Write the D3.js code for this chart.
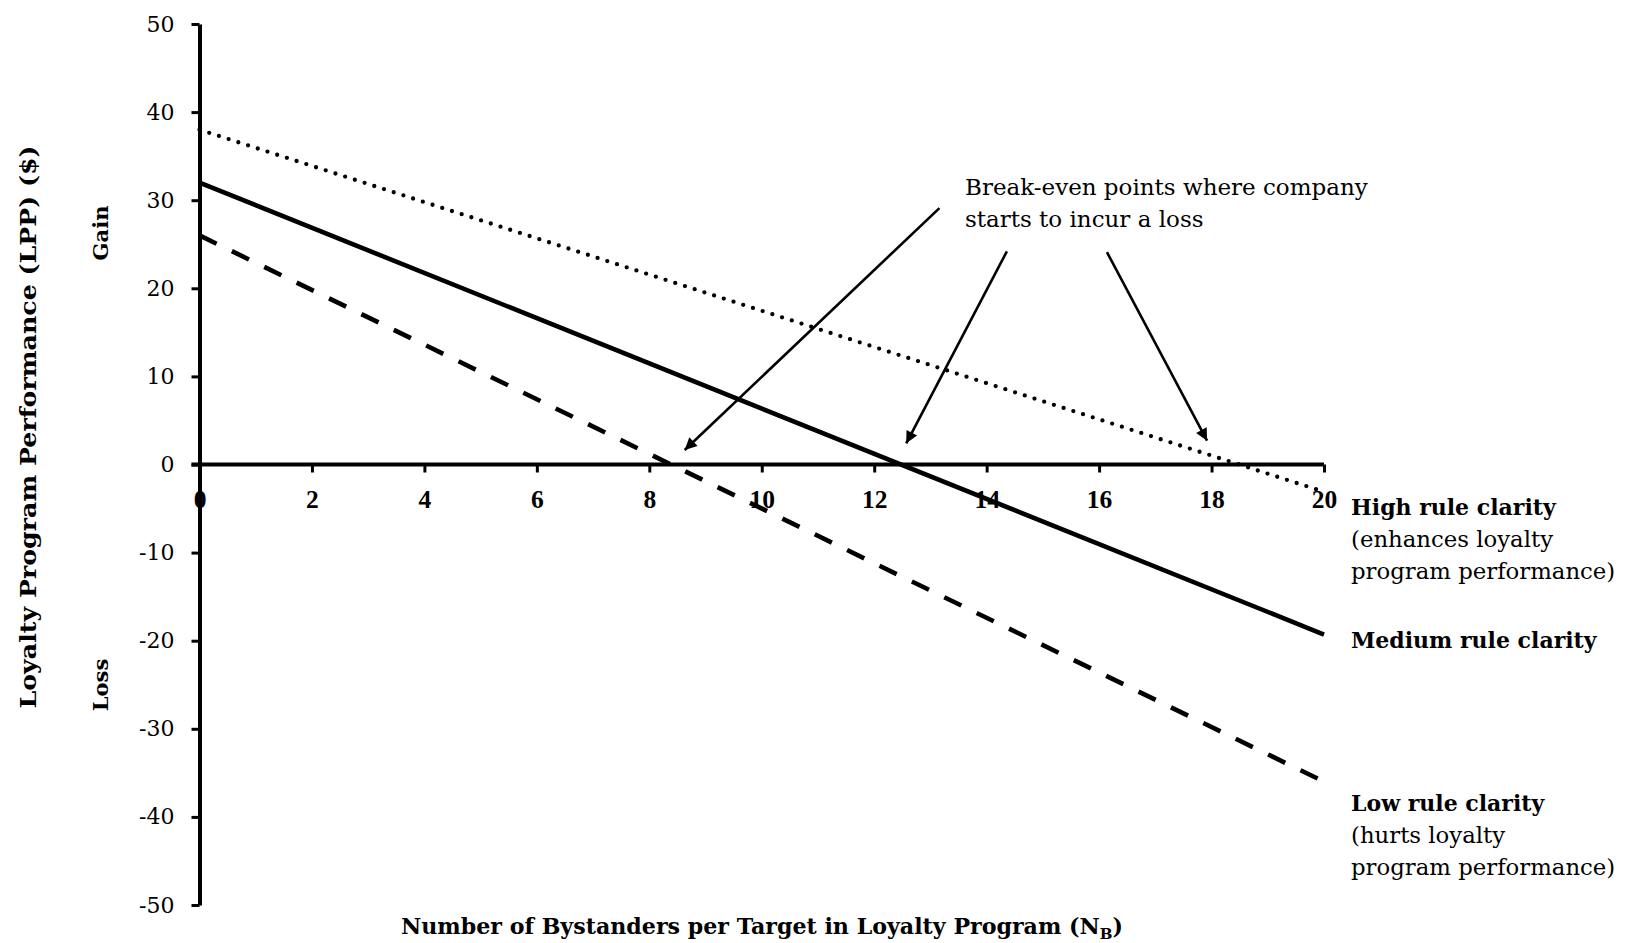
<!DOCTYPE html>
<html>
<head>
<meta charset="utf-8">
<script src="https://cdn.jsdelivr.net/npm/d3@7"></script>
<style>
  html, body { margin: 0; padding: 0; background: #fff; }
  svg { display: block; }
</style>
</head>
<body>
<svg id="chart" width="1628" height="943"></svg>
<script>
// ---- data ----
const xValues = [0, 20];
const highClarity = [38, -3.1];
const mediumClarity = [32, -19.3];
const lowClarity = [26, -36];
const xTicks = [0, 2, 4, 6, 8, 10, 12, 14, 16, 18, 20];
const yTicks = [-50, -40, -30, -20, -10, 0, 10, 20, 30, 40, 50];
// annotation arrows in data units: [fromX, fromY, toX, toY]
const arrows = [
  [13.16, 29.1, 8.63, 1.65],
  [14.36, 24.2, 12.57, 2.4],
  [16.14, 24.1, 17.92, 2.7]
];
const noteLines = ["Break-even points where company", "starts to incur a loss"];

const svg = d3.select("#chart");
const x = d3.scaleLinear().domain([0, 20]).range([199.5, 1324]);
const y = d3.scaleLinear().domain([-50, 50]).range([905, 24]);

const serif = "'DejaVu Serif', serif";

// ---- series ----
const line = d3.line().x(d => x(d[0])).y(d => y(d[1]));
const series = [
  {vals: highClarity, dash: "0 10.2", cap: "round", w: 4.3},
  {vals: mediumClarity, dash: null, cap: "butt", w: 4.6},
  {vals: lowClarity, dash: "19 17", cap: "butt", w: 4.6}
];
series.forEach(s => {
  svg.append("path")
    .datum(xValues.map((xv, i) => [xv, s.vals[i]]))
    .attr("d", line)
    .attr("fill", "none")
    .attr("stroke", "#000")
    .attr("stroke-width", s.w)
    .attr("stroke-linecap", s.cap)
    .attr("stroke-dasharray", s.dash);
});

// ---- x axis ----
const xAxis = svg.append("g")
  .attr("transform", `translate(0,${y(0)})`)
  .call(d3.axisBottom(x).tickValues(xTicks).tickFormat(d => String(d))
    .tickSize(8).tickSizeOuter(0).tickPadding(17));
xAxis.select(".domain").attr("stroke-width", 4).attr("d", `M${x(0) - 8},0H${x(20)}`);
xAxis.selectAll(".tick line").attr("stroke-width", 3);
xAxis.selectAll(".tick text")
  .attr("font-family", "'Liberation Serif', serif")
  .attr("font-weight", "bold")
  .attr("font-size", 25.5)
  .attr("fill", "#000");

// ---- y axis ----
const yAxis = svg.append("g")
  .attr("transform", `translate(${x(0)},0)`)
  .call(d3.axisLeft(y).tickValues(yTicks).tickFormat(d => String(d))
    .tickSize(8).tickSizeOuter(0).tickPadding(17));
yAxis.select(".domain").attr("stroke-width", 4);
yAxis.selectAll(".tick line").attr("stroke-width", 3);
yAxis.selectAll(".tick text")
  .attr("font-family", serif)
  .attr("font-size", 22)
  .attr("fill", "#000");

// ---- axis titles ----
svg.append("text")
  .attr("transform", `translate(36,427) rotate(-90)`)
  .attr("text-anchor", "middle")
  .attr("font-family", serif).attr("font-weight", "bold").attr("font-size", 22)
  .attr("textLength", 563).attr("lengthAdjust", "spacingAndGlyphs")
  .text("Loyalty Program Performance (LPP) ($)");

svg.append("text")
  .attr("transform", `translate(108,233) rotate(-90)`)
  .attr("text-anchor", "middle")
  .attr("font-family", serif).attr("font-weight", "bold").attr("font-size", 21)
  .text("Gain");
svg.append("text")
  .attr("transform", `translate(108,685) rotate(-90)`)
  .attr("text-anchor", "middle")
  .attr("font-family", serif).attr("font-weight", "bold").attr("font-size", 21)
  .text("Loss");

const xt = svg.append("text")
  .attr("x", 401).attr("y", 934)
  .attr("font-family", serif).attr("font-weight", "bold").attr("font-size", 22)
  .attr("textLength", 722).attr("lengthAdjust", "spacingAndGlyphs");
xt.append("tspan").text("Number of Bystanders per Target in Loyalty Program (N");
xt.append("tspan").attr("font-size", 15).attr("dy", 5).text("B");
xt.append("tspan").attr("dy", -5).text(")");

// ---- annotation ----
svg.append("defs").append("marker")
  .attr("id", "arrow").attr("viewBox", "0 0 10 10")
  .attr("refX", 10).attr("refY", 5)
  .attr("markerUnits", "userSpaceOnUse")
  .attr("markerWidth", 17).attr("markerHeight", 12)
  .attr("orient", "auto")
  .append("path").attr("d", "M0,0L10,5L0,10Z").attr("fill", "#000");

arrows.forEach(a => {
  svg.append("line")
    .attr("x1", x(a[0])).attr("y1", y(a[1]))
    .attr("x2", x(a[2])).attr("y2", y(a[3]))
    .attr("stroke", "#000").attr("stroke-width", 2.6)
    .attr("marker-end", "url(#arrow)");
});

const note = svg.append("text")
  .attr("font-family", serif).attr("font-size", 23).attr("fill", "#000");
noteLines.forEach((t, i) => {
  note.append("tspan").attr("x", 965).attr("y", 195 + i * 32).text(t);
});

// ---- right-side labels ----
const labels = [
  {y: 515, text: "High rule clarity", bold: true},
  {y: 547, text: "(enhances loyalty", bold: false},
  {y: 579, text: "program performance)", bold: false},
  {y: 648, text: "Medium rule clarity", bold: true},
  {y: 811, text: "Low rule clarity", bold: true},
  {y: 843, text: "(hurts loyalty", bold: false},
  {y: 875, text: "program performance)", bold: false}
];
svg.selectAll("text.lab").data(labels).enter().append("text")
  .attr("class", "lab")
  .attr("x", 1351).attr("y", d => d.y)
  .attr("font-family", serif)
  .attr("font-weight", d => d.bold ? "bold" : "normal")
  .attr("font-size", d => d.bold ? 22 : 22.8)
  .text(d => d.text);
</script>
</body>
</html>
